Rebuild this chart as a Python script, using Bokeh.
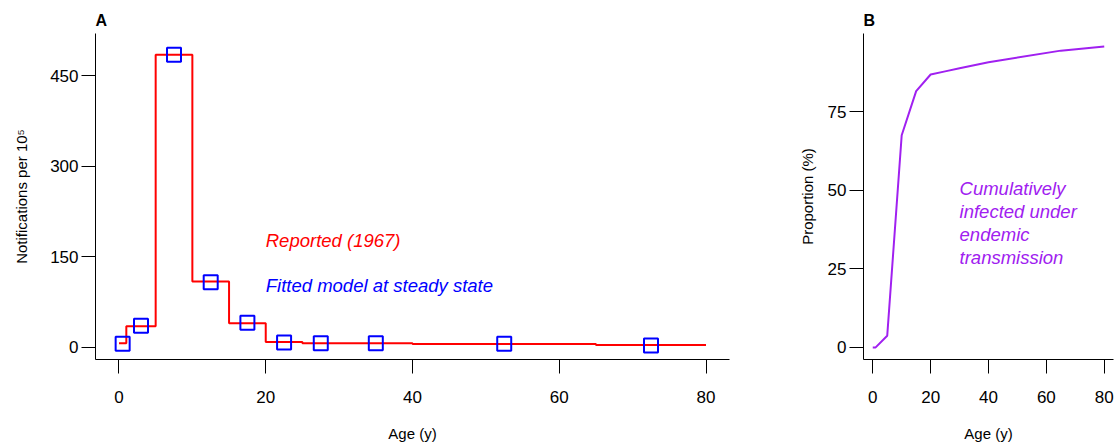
from bokeh.plotting import figure
from bokeh.layouts import row
from bokeh.models import Range1d, FixedTicker, Label
from bokeh.embed import file_html
from bokeh.resources import INLINE

# ---- Data ----
# Panel A: reported notifications per 10^5 by age group (step edges)
age_edges = [0, 1, 5, 10, 15, 20, 25, 30, 40, 65, 80]
reported = [7, 35, 485, 109, 40, 9, 7, 7, 5.5, 4]
# Fitted model at steady state (at age-group midpoints)
fit_age = [0.5, 3, 7.5, 12.5, 17.5, 22.5, 27.5, 35, 52.5, 72.5]
fit_val = [6, 36, 485, 108, 41, 8, 7, 7, 6, 3]
# Panel B: proportion cumulatively infected (%)
cum_age = [0, 1, 5, 10, 15, 20, 25, 30, 40, 65, 80]
cum_val = [0, 0, 3.7, 67.5, 81.5, 86.8, 87.8, 88.8, 90.7, 94.4, 95.7]

xticks = [0, 20, 40, 60, 80]
yticks_a = [0, 150, 300, 450]
yticks_b = [0, 25, 50, 75]

FONT = "Liberation Sans"
RED = "#FF0000"
BLUE = "#0000FF"
PURPLE = "#A020F0"


def style(p, xlab, ylab, ystand):
    p.outline_line_color = None
    p.xgrid.visible = False
    p.ygrid.visible = False
    for ax in (p.xaxis[0], p.yaxis[0]):
        ax.axis_line_color = "black"
        ax.axis_line_width = 1
        ax.major_tick_line_color = "black"
        ax.major_tick_in = 0
        ax.major_tick_out = 14
        ax.minor_tick_line_color = None
        ax.major_label_text_font = FONT
        ax.major_label_text_font_size = "17px"
        ax.major_label_text_color = "black"
        ax.axis_label_text_font = FONT
        ax.axis_label_text_font_size = "15px"
        ax.axis_label_text_font_style = "normal"
        ax.axis_label_text_color = "black"
    p.xaxis[0].axis_label = xlab
    p.yaxis[0].axis_label = ylab
    p.xaxis[0].major_label_standoff = 17
    p.xaxis[0].axis_label_standoff = 19
    p.yaxis[0].major_label_standoff = 3
    p.yaxis[0].axis_label_standoff = ystand
    p.yaxis[0].major_label_orientation = "horizontal"
    p.xaxis[0].ticker = FixedTicker(ticks=xticks)
    p.title.text_font = FONT
    p.title.text_font_size = "16px"
    p.title.text_font_style = "bold"
    p.title.text_color = "black"
    p.title.align = "left"


# ---- Panel A ----
pA = figure(width=760, height=447, output_backend="svg", toolbar_location=None,
            x_range=Range1d(-3.2, 83.2), y_range=Range1d(-20, 520),
            min_border_left=95, min_border_right=31, min_border_top=33,
            min_border_bottom=88, title="A")
style(pA, "Age (y)", "Notifications per 10\u2075", 17)
pA.yaxis[0].ticker = FixedTicker(ticks=yticks_a)

pA.step(age_edges, reported + [reported[-1]], mode="after", line_color=RED, line_width=2)
pA.scatter(fit_age, fit_val, marker="square", size=14, fill_color=None,
           line_color=BLUE, line_width=2)
pA.add_layout(Label(x=20, y=177, text="Reported (1967)", text_color=RED,
                    text_font=FONT, text_font_size="18.5px", text_font_style="italic",
                    text_baseline="middle", text_align="left"))
pA.add_layout(Label(x=20, y=103, text="Fitted model at steady state", text_color=BLUE,
                    text_font=FONT, text_font_size="18.5px", text_font_style="italic",
                    text_baseline="middle", text_align="left"))

# ---- Panel B ----
pB = figure(width=358, height=447, output_backend="svg", toolbar_location=None,
            x_range=Range1d(-3.2, 83.2), y_range=Range1d(-3.85, 99.85),
            min_border_left=103, min_border_right=5, min_border_top=33,
            min_border_bottom=88, title="B")
style(pB, "Age (y)", "Proportion (%)", 9)
pB.yaxis[0].ticker = FixedTicker(ticks=yticks_b)
pB.line(cum_age, cum_val, line_color=PURPLE, line_width=2)

b_lines = ["Cumulatively", "infected under", "endemic", "transmission"]
b_ys = [50.5, 43.2, 36.0, 28.7]
for t, yy in zip(b_lines, b_ys):
    pB.add_layout(Label(x=30, y=yy, text=t, text_color=PURPLE,
                        text_font=FONT, text_font_size="18.5px", text_font_style="italic",
                        text_baseline="middle", text_align="left"))

layout = row(pA, pB)
open("out.html", "w").write(file_html(layout, INLINE))
